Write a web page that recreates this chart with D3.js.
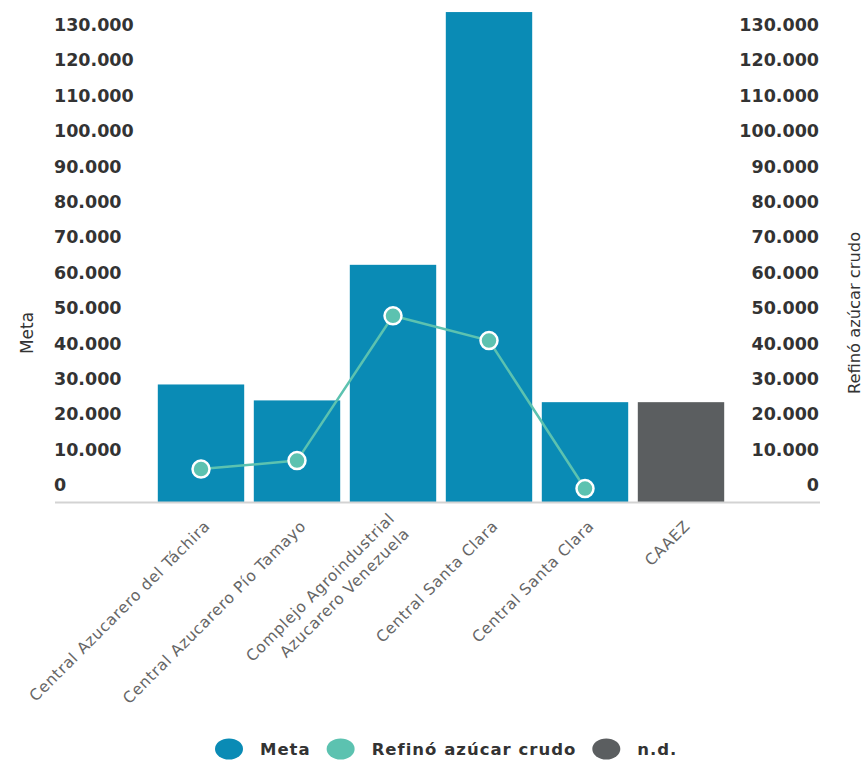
<!DOCTYPE html>
<html>
<head>
<meta charset="utf-8">
<script src="https://cdn.jsdelivr.net/npm/d3@7"></script>
<style>
  body { margin: 0; background: #fff; }
  svg { display: block; }
</style>
</head>
<body>
<svg id="svg" width="866" height="762"></svg>
<script>
// categorias (la tercera va en dos lineas)
const categorias = [
    "Central Azucarero del Táchira",
    "Central Azucarero Pío Tamayo",
    "Complejo Agroindustrial\nAzucarero Venezuela",
    "Central Santa Clara",
    "Central Santa Clara",
    "CAAEZ"
]
const meta = [33200, 28700, 67000, 138400, 28200, 28200]
const sinDato = [false, false, false, false, false, true]   // n.d.
const refino = [9300, 11700, 52600, 45600, 3800, null]
const yTicks = d3.range(0, 130001, 10000)
const leyenda = ["Meta", "Refinó azúcar crudo", "n.d."]

const azul = "#0a8bb5", verde = "#5cc2b0", gris = "#5b5e60"

window.addEventListener('load', function() {

    const svg = d3.select("#svg")
    const plotLeft = 55, plotRight = 820, base = 502

    const fmt = d3.formatLocale({decimal: ",", thousands: ".", grouping: [3], currency: ["", ""]}).format(",")

    const x = d3.scaleBand()
        .domain(d3.range(categorias.length))
        .range([153, 729])
        .paddingInner(0.1)
        .paddingOuter(0.05)

    const y = d3.scaleLinear()
        .domain([0, 140000])
        .range([base, base - 14 * 35.4])

    // ejes y: etiquetas por encima de su valor
    const left = svg.append("g")
        .attr("transform", `translate(${plotLeft - 1},0)`)
        .call(d3.axisRight(y).tickValues(yTicks).tickFormat(fmt).tickSize(0).tickPadding(0))
    const right = svg.append("g")
        .attr("transform", `translate(${plotRight - 1},0)`)
        .call(d3.axisLeft(y).tickValues(yTicks).tickFormat(fmt).tickSize(0).tickPadding(0))
    for (const g of [left, right]) {
        g.select(".domain").remove()
        g.selectAll("text")
            .attr("y", -17)
            .attr("font-family", "DejaVu Sans")
            .attr("font-weight", "bold")
            .attr("font-size", 17.5)
            .attr("fill", "#333")
    }

    // barras
    svg.append("g").selectAll("rect")
        .data(meta)
        .join("rect")
        .attr("x", (d, i) => x(i))
        .attr("width", x.bandwidth())
        .attr("y", d => y(d))
        .attr("height", d => y(0) - y(d))
        .attr("fill", (d, i) => sinDato[i] ? gris : azul)

    // linea del eje x
    svg.append("line")
        .attr("x1", plotLeft).attr("x2", plotRight)
        .attr("y1", base + 0.5).attr("y2", base + 0.5)
        .attr("stroke", "#d3d3d3")
        .attr("stroke-width", 2)

    // etiquetas x
    const xa = svg.append("g")
        .attr("transform", `translate(0,${base})`)
        .call(d3.axisBottom(x).tickSize(0).tickFormat(""))
    xa.select(".domain").remove()
    xa.selectAll(".tick").each(function(i) {
        const lines = categorias[i].split("\n")
        const t = d3.select(this).append("text")
            .attr("transform", "translate(10,25) rotate(-45)")
            .attr("text-anchor", "end")
            .attr("font-family", "DejaVu Sans")
            .attr("font-size", 15.5)
            .attr("letter-spacing", 0.7)
            .attr("fill", "#666")
        lines.forEach((s, k) => {
            t.append("tspan")
                .attr("x", 0)
                .attr("y", (k - (lines.length - 1) / 2) * 21)
                .text(s)
        })
    })

    // serie refino
    const pts = refino.map((v, i) => [i, v]).filter(d => d[1] != null)
    const line = d3.line()
        .x(d => x(d[0]) + x.bandwidth() / 2)
        .y(d => y(d[1]))
    svg.append("path")
        .datum(pts)
        .attr("d", line)
        .attr("fill", "none")
        .attr("stroke", verde)
        .attr("stroke-width", 2.5)
    svg.append("g").selectAll("circle")
        .data(pts)
        .join("circle")
        .attr("cx", d => x(d[0]) + x.bandwidth() / 2)
        .attr("cy", d => y(d[1]))
        .attr("r", 8.5)
        .attr("fill", verde)
        .attr("stroke", "#fff")
        .attr("stroke-width", 2.5)

    // titulos de ejes
    svg.append("text")
        .attr("transform", "translate(33,333) rotate(-90)")
        .attr("text-anchor", "middle")
        .attr("font-family", "DejaVu Sans")
        .attr("font-size", 17)
        .attr("fill", "#333")
        .text("Meta")
    svg.append("text")
        .attr("transform", "translate(860,313) rotate(-90)")
        .attr("text-anchor", "middle")
        .attr("font-family", "DejaVu Sans")
        .attr("font-size", 16.3)
        .attr("fill", "#333")
        .text("Refinó azúcar crudo")

    // leyenda
    const colores = [azul, verde, gris]
    let lx = 229
    leyenda.forEach((s, i) => {
        svg.append("ellipse")
            .attr("cx", lx).attr("cy", 749)
            .attr("rx", 14).attr("ry", 10.5)
            .attr("fill", colores[i])
        const t = svg.append("text")
            .attr("x", lx + 31).attr("y", 755)
            .attr("font-family", "DejaVu Sans")
            .attr("font-weight", "bold")
            .attr("font-size", 16.5)
            .attr("letter-spacing", 1)
            .attr("fill", "#333")
            .text(s)
        lx += 31 + t.node().getComputedTextLength() + 30
    })
})
</script>
</body>
</html>
